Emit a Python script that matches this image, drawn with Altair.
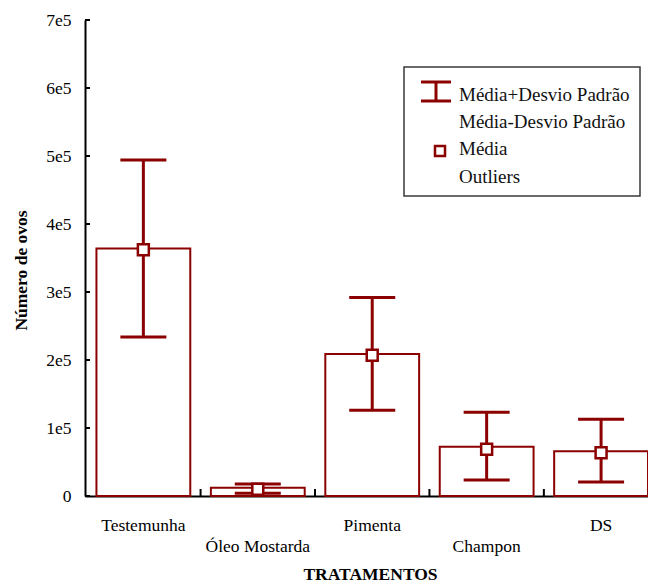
import json
import altair as alt
import pandas as pd

# ---- data ----
categories = ["Testemunha", "Óleo Mostarda", "Pimenta", "Champon", "DS"]
bar_values = [364000, 12000, 209000, 72500, 65700]
mean_values = [362000, 10000, 207000, 68700, 63700]
upper_values = [494000, 17600, 292000, 123000, 113000]
lower_values = [234000, 4000, 126000, 23500, 20600]
y_tick_values = [0, 100000, 200000, 300000, 400000, 500000, 600000, 700000]
legend_labels = ["Média+Desvio Padrão", "Média-Desvio Padrão", "Média", "Outliers"]

df = pd.DataFrame({
    "cat": categories,
    "bar": bar_values,
    "mean": mean_values,
    "upper": upper_values,
    "lower": lower_values,
})
ticks_x = pd.DataFrame({"cat": categories[1:]})
ticks_y = pd.DataFrame({"v": y_tick_values})
dummy = pd.DataFrame({"k": [0]})

W, H = 563, 476
RED = "#8b0000"
FONT = "Liberation Serif, Times New Roman, serif"

xscale = alt.Scale(domain=categories, paddingInner=0.18, paddingOuter=0.05, align=1)
yscale = alt.Scale(domain=[0, 700000], nice=False)

cats_js = json.dumps(categories)
x_axis = alt.Axis(
    title="TRATAMENTOS", labelAngle=0, tickSize=0, labelPadding=20,
    labelFont=FONT, labelFontSize=17.5, labelColor="black", labelLineHeight=21,
    labelOverlap=False, labelLimit=0,
    labelExpr=f"indexof({cats_js}, datum.value) % 2 == 1 ? ['', datum.label] : datum.label",
    titleFont=FONT, titleFontSize=17.5, titleFontWeight="bold", titleColor="black",
    titleX=285, titleY=78, titleAlign="center", titleBaseline="middle",
    domainColor="black", domainWidth=2,
)
y_axis = alt.Axis(
    values=y_tick_values, tickSize=0, labelPadding=14, grid=False,
    labelFont=FONT, labelFontSize=17.5, labelColor="black", labelBaseline="middle",
    labelExpr="datum.value == 0 ? '0' : format(datum.value / 100000, 'd') + 'e5'",
    title="Número de ovos", titleFont=FONT, titleFontSize=17.5, titleFontWeight="bold",
    titleColor="black", titleAngle=-90, titleX=-64, titleY=250,
    titleAlign="center", titleBaseline="middle",
    domainColor="black", domainWidth=2,
)

X = alt.X("cat:N", scale=xscale, sort=categories, axis=x_axis)

base = alt.Chart(df)

bars = base.mark_bar(fill="white", stroke=RED, strokeWidth=2).encode(
    x=X, y=alt.Y("bar:Q", scale=yscale, axis=y_axis)
)
whisker = base.mark_rule(color=RED, strokeWidth=3).encode(
    x=X, y=alt.Y("lower:Q", scale=yscale, axis=y_axis), y2="upper:Q"
)
cap_up = base.mark_tick(color=RED, thickness=3, size=46, orient="horizontal", opacity=1).encode(
    x=X, y=alt.Y("upper:Q", scale=yscale, axis=y_axis)
)
cap_lo = base.mark_tick(color=RED, thickness=3, size=46, orient="horizontal", opacity=1).encode(
    x=X, y=alt.Y("lower:Q", scale=yscale, axis=y_axis)
)
means = base.mark_point(shape="square", filled=True, fill="white", stroke=RED,
                        strokeWidth=2.5, size=120, opacity=1).encode(
    x=X, y=alt.Y("mean:Q", scale=yscale, axis=y_axis)
)

xticks = alt.Chart(ticks_x).mark_rule(color="black", strokeWidth=2, xOffset=-10.3).encode(
    x=alt.X("cat:N", scale=xscale, sort=categories, axis=x_axis, bandPosition=0),
    y=alt.value(H), y2=alt.value(H - 7)
)
yticks = alt.Chart(ticks_y).mark_rule(color="black", strokeWidth=2).encode(
    y=alt.Y("v:Q", scale=yscale, axis=y_axis),
    x=alt.value(0), x2=alt.value(5)
)

# ---- legend box (decoration) ----
leg = alt.Chart(dummy)
box = leg.mark_rect(fill="white", stroke="#3a3a3a", strokeWidth=1.5).encode(
    x=alt.value(319), x2=alt.value(555), y=alt.value(47), y2=alt.value(176)
)
sym_v = leg.mark_rule(color=RED, strokeWidth=3).encode(
    x=alt.value(351), y=alt.value(62), y2=alt.value(81)
)
sym_t = leg.mark_rule(color=RED, strokeWidth=3).encode(
    x=alt.value(336), x2=alt.value(366), y=alt.value(62)
)
sym_b = leg.mark_rule(color=RED, strokeWidth=3).encode(
    x=alt.value(336), x2=alt.value(366), y=alt.value(81)
)
sym_sq = leg.mark_point(shape="square", filled=True, fill="white", stroke=RED,
                        strokeWidth=2.5, size=100, opacity=1).encode(
    x=alt.value(355), y=alt.value(131)
)
legend_rows = [75, 102, 129, 157]
leg_texts = [
    leg.mark_text(align="left", baseline="middle", font=FONT, fontSize=19, color="#111111").encode(
        x=alt.value(374), y=alt.value(yy), text=alt.value(lbl)
    )
    for lbl, yy in zip(legend_labels, legend_rows)
]

chart = alt.layer(
    bars, whisker, cap_up, cap_lo, means, xticks, yticks,
    box, sym_v, sym_t, sym_b, sym_sq, *leg_texts
).properties(
    width=W, height=H,
    autosize=alt.AutoSizeParams(type="none"),
    padding={"left": 77, "top": 12, "right": 0, "bottom": 89},
    background="white",
).configure_view(stroke=None)

chart.save("out.html", embed_options={"renderer": "svg", "actions": False})
